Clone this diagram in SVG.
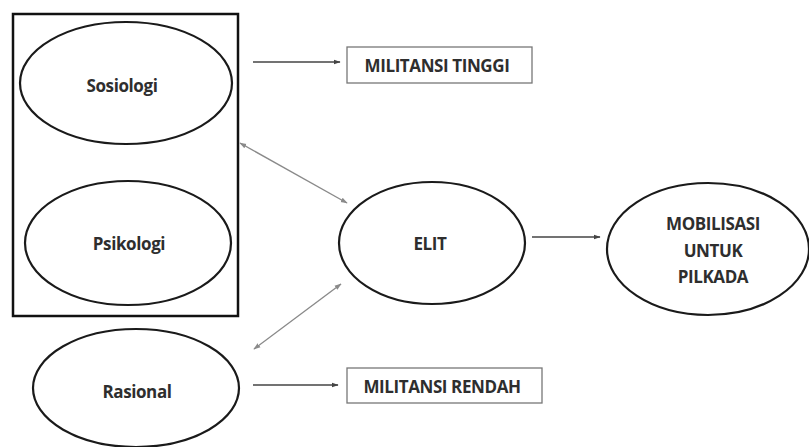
<svg xmlns="http://www.w3.org/2000/svg" width="809" height="447" viewBox="0 0 809 447">
<style>
.node{fill:#fff;stroke:#1a1a1a;stroke-width:2.2}
.box{fill:#fff;stroke:#777;stroke-width:1.3}
.lbl{font-family:"Open Sans","Liberation Sans",sans-serif;font-weight:bold;font-size:17px;fill:#2e2e2e;text-anchor:middle;dominant-baseline:central;letter-spacing:-0.4px}
.conn{stroke:#444;stroke-width:1.4;fill:none}
.gray{stroke:#8a8a8a;stroke-width:1.4;fill:none}
</style>
<defs>
<marker id="ah" viewBox="0 0 10 10" refX="9" refY="5" markerWidth="7" markerHeight="7" orient="auto-start-reverse" markerUnits="userSpaceOnUse">
<path d="M0,1.5 L10,5 L0,8.5 z" fill="#444"/>
</marker>
<marker id="ahg" viewBox="0 0 10 10" refX="9" refY="5" markerWidth="7" markerHeight="7" orient="auto-start-reverse" markerUnits="userSpaceOnUse">
<path d="M0,1.5 L10,5 L0,8.5 z" fill="#8a8a8a"/>
</marker>
</defs>
<rect width="809" height="447" fill="#fff"/>
<g id="group-box"><rect x="13" y="14" width="225" height="302" fill="none" stroke="#111" stroke-width="2.5"/></g>
<g id="sosiologi"><ellipse class="node" cx="126" cy="83" rx="106" ry="61"/><text class="lbl" x="122" y="85">Sosiologi</text></g>
<g id="psikologi"><ellipse class="node" cx="128" cy="243" rx="103" ry="62"/><text class="lbl" x="129" y="243">Psikologi</text></g>
<g id="rasional"><ellipse class="node" cx="136" cy="388" rx="103" ry="59"/><text class="lbl" x="137" y="391">Rasional</text></g>
<g id="elit"><ellipse class="node" cx="432" cy="243" rx="93" ry="61"/><text class="lbl" x="430" y="243">ELIT</text></g>
<g id="mobilisasi"><ellipse class="node" cx="708" cy="249" rx="101" ry="66"/>
<text class="lbl" x="713" y="223">MOBILISASI</text><text class="lbl" x="713" y="250">UNTUK</text><text class="lbl" x="713" y="276">PILKADA</text></g>
<g id="militansi-tinggi"><rect class="box" x="347" y="47" width="185" height="36"/><text class="lbl" x="437" y="65">MILITANSI TINGGI</text></g>
<g id="militansi-rendah"><rect class="box" x="347" y="368" width="195" height="35"/><text class="lbl" x="442" y="386">MILITANSI RENDAH</text></g>
<g id="connectors">
<line class="conn" x1="253" y1="62" x2="340" y2="62" marker-end="url(#ah)"/>
<line class="conn" x1="532" y1="237" x2="600" y2="237" marker-end="url(#ah)"/>
<line class="conn" x1="253" y1="385" x2="338" y2="385" marker-end="url(#ah)"/>
<line class="gray" x1="240" y1="143" x2="347" y2="203" marker-start="url(#ahg)" marker-end="url(#ahg)"/>
<line class="gray" x1="254" y1="349" x2="341" y2="284" marker-start="url(#ahg)" marker-end="url(#ahg)"/>
</g>
</svg>
